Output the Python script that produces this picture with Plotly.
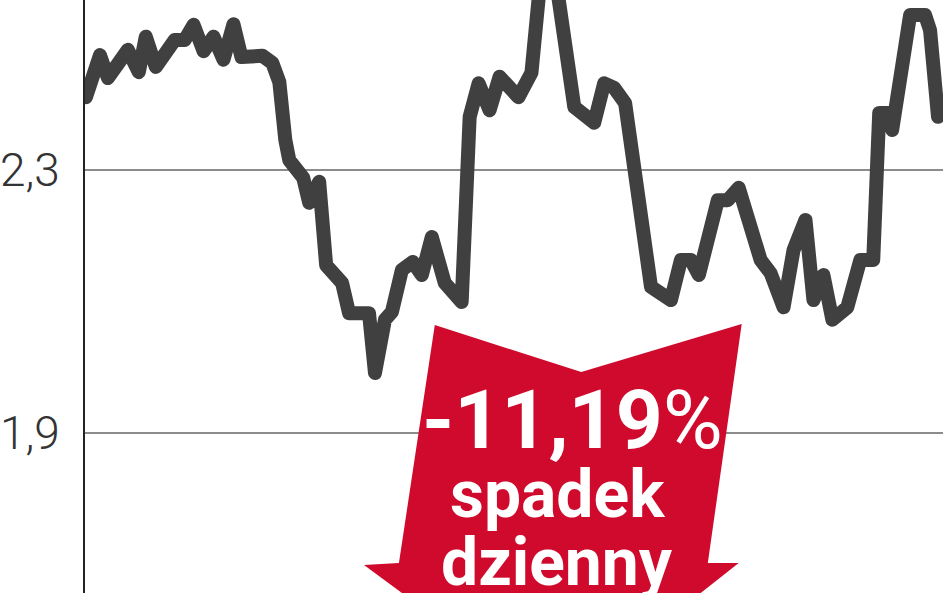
import plotly.graph_objects as go

# Session positions (trading-day scale) and closing prices
days = [1, 15, 23, 43, 54, 61, 71, 90, 100, 109, 119, 129, 139, 149, 157, 178, 188, 195,
        201, 205, 219, 225, 235, 242, 258, 265, 285, 291, 301, 308, 318, 329, 338, 348,
        361, 378, 386, 395, 406, 416, 435, 448, 458, 471, 491, 511, 521, 531, 542, 551,
        568, 588, 598, 608, 616, 635, 645, 656, 665, 678, 688, 701, 711, 723, 731, 741,
        750, 765, 778, 791, 797, 806, 810, 828, 843, 848, 856]
prices = [2.411, 2.475, 2.440, 2.483, 2.449, 2.503, 2.457, 2.498, 2.498, 2.521, 2.481,
          2.503, 2.468, 2.522, 2.472, 2.474, 2.463, 2.434, 2.346, 2.315, 2.288, 2.250,
          2.282, 2.155, 2.128, 2.082, 2.082, 1.991, 2.072, 2.084, 2.148, 2.160, 2.140,
          2.198, 2.128, 2.099, 2.381, 2.432, 2.391, 2.442, 2.411, 2.448, 2.605, 2.605,
          2.396, 2.372, 2.432, 2.425, 2.402, 2.315, 2.122, 2.102, 2.163, 2.163, 2.140,
          2.254, 2.254, 2.273, 2.228, 2.163, 2.143, 2.091, 2.178, 2.224, 2.102, 2.140,
          2.072, 2.091, 2.163, 2.163, 2.387, 2.387, 2.361, 2.536, 2.536, 2.513, 2.381]

tick_values = [1.9, 2.3]
tick_labels = ["1,9", "2,3"]

label_change = "-11,19"
label_pct = "%"
label_line2 = "spadek"
label_line3 = "dzienny"

W, H = 948, 593
ML, MR = 82, 5
PW = W - ML - MR


def px(x, y):
    """Convert a canvas pixel position into paper coordinates."""
    return (x - ML) / PW, (H - y) / H


fig = go.Figure()
fig.add_trace(go.Scatter(
    x=days, y=prices, mode="lines",
    line=dict(color="#404040", width=14),
    hoverinfo="skip", showlegend=False,
))

# red arrow badge
arrow_pts = [(433, 325), (580, 372), (741, 324), (707, 563), (738, 563),
             (555, 707), (362, 565), (397, 563)]
path = "M " + " L ".join(f"{px(a, b)[0]:.4f},{px(a, b)[1]:.4f}" for a, b in arrow_pts) + " Z"
fig.add_shape(type="path", path=path, xref="paper", yref="paper",
              fillcolor="#cf0a2c", line=dict(width=0), layer="above")

font_b = "Roboto, 'Open Sans', sans-serif"
for txt, (cx, cy), size in [
    (f"{label_change}<span style='font-weight:400'>{label_pct}</span>", (571, 420), 82),
    (label_line2, (556, 494), 66),
    (label_line3, (556, 562), 66),
]:
    ax, ay = px(cx, cy)
    fig.add_annotation(x=ax, y=ay, xref="paper", yref="paper", text=txt,
                       showarrow=False, xanchor="center", yanchor="middle",
                       font=dict(family=font_b, size=size, color="white", weight=700))

fig.update_layout(
    width=W, height=H,
    margin=dict(l=ML, r=MR, t=0, b=0),
    paper_bgcolor="white", plot_bgcolor="white",
    xaxis=dict(range=[0, 861], visible=False, fixedrange=True),
    yaxis=dict(range=[1.6559, 2.5589], tickvals=tick_values, ticktext=tick_labels,
               showgrid=True, gridcolor="#8c8c8c", gridwidth=2,
               showline=True, linecolor="#222222", linewidth=2,
               zeroline=False, ticks="", ticklabelstandoff=14,
               tickfont=dict(family="Roboto, sans-serif", size=46, color="#333333", weight=300),
               fixedrange=True),
    showlegend=False,
)

post = (
    "document.body.style.margin='0';"
    "document.querySelectorAll('.scatterlayer path.js-line').forEach(function(p){"
    "p.style.strokeLinejoin='round';p.style.strokeLinecap='round';});"
)
fig.write_html("out.html", config={"displayModeBar": False}, post_script=post)
